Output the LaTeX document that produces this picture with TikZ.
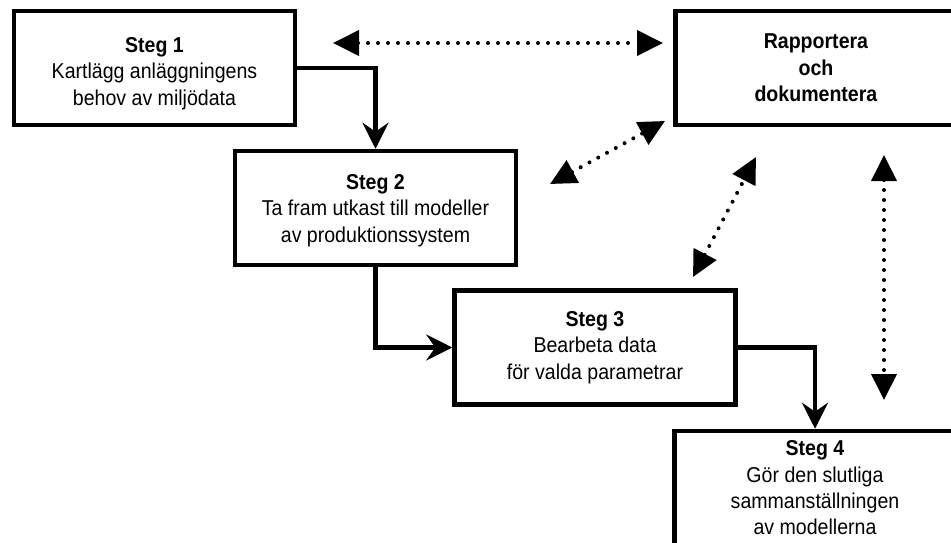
\documentclass[tikz,border=0pt]{standalone}
\usepackage{fontspec}
\setmainfont[FakeStretch=0.91]{Liberation Sans}
\usetikzlibrary{arrows.meta}
\begin{document}
\begin{tikzpicture}[x=1pt,y=-1pt,
  box/.style={draw, line width=4.5pt, minimum width=281pt, minimum height=114pt,
    align=center, inner sep=0pt, font=\fontsize{21.5}{26.3}\selectfont},
  flow/.style={line width=4.5pt, -{Stealth[length=26pt,width=26pt,inset=9pt]}},
  link/.style={line width=4pt, line cap=round, dash pattern=on 0pt off 10pt,
    {Triangle[length=26pt,width=25pt]}-{Triangle[length=26pt,width=25pt]}}]
\clip (0,0) rectangle (951,542);
\fill[white] (0,0) rectangle (951,542);
\node[box] (s1) at (154.5,68) {\rule{0pt}{26pt}\textbf{Steg 1}\\Kartlägg anläggningens\\behov av miljödata};
\node[box] (rap) at (816,68) {\textbf{Rapportera}\\\textbf{och}\\\textbf{dokumentera}};
\node[box] (s2) at (375.5,208) {\rule{0pt}{20pt}\textbf{Steg 2}\\Ta fram utkast till modeller\\av produktionssystem};
\node[box] (s3) at (595,347.5) {\textbf{Steg 3}\\Bearbeta data\\för valda parametrar};
\node[box] (s4) at (815,488) {\textbf{Steg 4}\\Gör den slutliga\\sammanställningen\\av modellerna};
\draw[flow] (s1.east) -| (s2.north);
\draw[flow] (s2.south) |- (s3.west);
\draw[flow] (s3.east) -| (s4.north);
\coordinate (h1) at (333,43);
\coordinate (h2) at (663,43);
\coordinate (d1a) at (550,184);
\coordinate (d1b) at (665,121);
\coordinate (d2a) at (693,277);
\coordinate (d2b) at (756,157);
\coordinate (v1) at (884,155);
\coordinate (v2) at (884,400);
\draw[link] (h1) -- (h2);
\draw[link] (d1a) -- (d1b);
\draw[link] (d2a) -- (d2b);
\draw[link] (v1) -- (v2);
\end{tikzpicture}
\end{document}
